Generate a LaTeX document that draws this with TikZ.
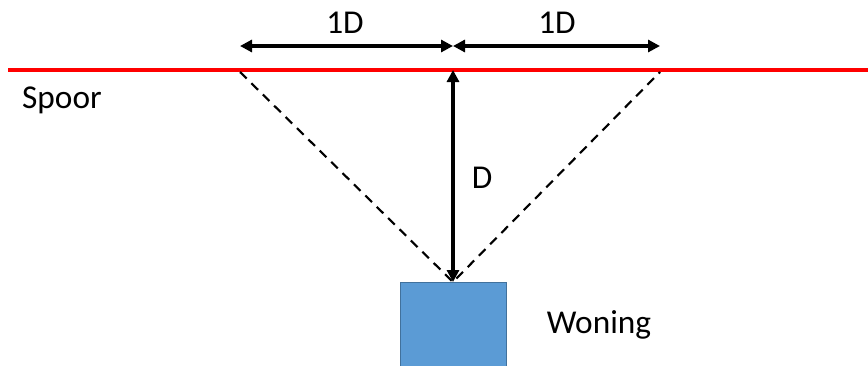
\documentclass[tikz,border=0pt]{standalone}
\usepackage{fontspec}
\setmainfont{Carlito}
\usetikzlibrary{arrows.meta}
\definecolor{spoorred}{HTML}{FF0000}
\definecolor{boxfill}{HTML}{5B9BD5}
\definecolor{boxedge}{HTML}{41719C}
\tikzset{
  px/.style={x=0.75pt,y=-0.75pt},
  lbl/.style={font=\fontsize{25}{30}\selectfont, inner sep=0pt},
  dimarrow/.style={line width=2.3pt, {Triangle[length=9pt,width=9pt]}-{Triangle[length=9pt,width=9pt]}},
  sightline/.style={line width=1.6pt, dash pattern=on 7pt off 5pt},
  house/.style={draw=boxedge, line width=1pt, fill=boxfill, inner sep=0pt, minimum width=79.5pt, minimum height=66pt, anchor=north west}
}
\begin{document}
\begin{tikzpicture}[px]
\useasboundingbox (0,0) rectangle (868,365);
\clip (0,0) rectangle (868,365);
\coordinate (railL) at (8,70);
\coordinate (railR) at (868,70);
\coordinate (railM) at (453,70);
\coordinate (sightL) at (240,72);
\coordinate (sightR) at (660,72);
\coordinate (dimL) at (240,46);
\coordinate (dimM) at (453,46);
\coordinate (dimR) at (660,46);
\node[house] (woning) at (400,282) {};
\coordinate (top) at (453,282);
\draw[spoorred, line width=3pt] (railL) -- (railR);
\draw[sightline] (sightL) -- (top) -- (sightR);
\draw[dimarrow] (dimL) -- (dimM);
\draw[dimarrow] (dimM) -- (dimR);
\draw[dimarrow] (railM) -- (top);
\node[lbl] (l1) at (345,23) {1D};
\node[lbl] (l2) at (557,23) {1D};
\node[lbl] (ld) at (482,178) {D};
\node[lbl] (spoor) at (62,100) {Spoor};
\node[lbl] (wlabel) at (599,325) {Woning};
\end{tikzpicture}
\end{document}
